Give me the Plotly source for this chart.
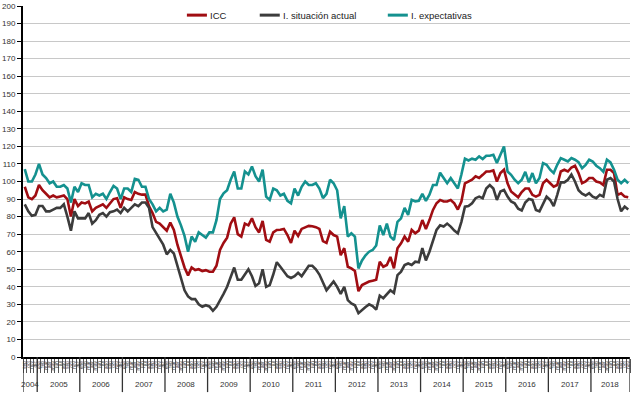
import plotly.graph_objects as go

# ---------------- data ----------------
YEARS = ["2004", "2005", "2006", "2007", "2008", "2009", "2010", "2011",
         "2012", "2013", "2014", "2015", "2016", "2017", "2018"]
MONTHS = ["ene", "feb", "mar", "abr", "may", "jun",
          "jul", "ago", "sep", "oct", "nov", "dic"]
FIRST_MONTH = 8   # series starts in September 2004 (index in MONTHS)
LAST_MONTH = 10   # ends in November 2018

icc = [
    97, 91, 90, 92,
    98, 95, 93, 91, 92, 91, 91.5, 92, 90, 80, 90, 86,
    88, 87.5, 88.5, 83, 85, 86, 87, 85, 87.5, 90, 90.5, 85,
    91, 90, 89.5, 94, 93, 92.5, 92.5, 86, 82, 77, 76, 74,
    72, 76.6, 72.4, 64, 57, 51, 46.5, 51, 49.5, 50, 49, 49.5,
    48.6, 48.6, 52, 61, 65, 68, 76, 79.6, 70, 68.6, 76, 75,
    79, 74, 71, 77.5, 66.7, 65.7, 71, 72.4, 72.5, 73, 69.5, 65,
    72, 69, 73, 74, 74.7, 74.5, 74, 73, 66, 65, 71.4, 69.5,
    68.6, 58, 62, 51.4, 50.5, 49, 37.5, 41, 42, 43, 43.5, 44,
    54.3, 51.4, 52.4, 57, 50.5, 62, 64.8, 68.6, 65.7, 72.4, 70.5, 72,
    78, 73, 78, 83.8, 87.6, 89.5, 88.6, 88.6, 89.5, 87.6, 84, 88.6,
    99, 100, 101, 102.9, 102, 103.8, 105.7, 105.7, 106.3, 100, 104.8, 106.7,
    99, 94.3, 92.4, 91, 94, 96, 96, 92.4, 91.4, 92.4, 99, 101,
    99, 97, 98, 105.7, 106.7, 105.7, 108, 109, 104.8, 99, 100, 102,
    102, 100, 99.5, 98, 106.7, 106.7, 104.8, 92.4, 93.3, 91.4, 91,
]

situacion_actual = [
    87, 83, 80.5, 81,
    86, 86, 83, 83, 84, 85, 85, 87, 80, 72, 83, 79,
    79, 79, 82, 76, 78, 81, 82, 80, 82.5, 83, 84, 82,
    85, 83, 85, 87, 86, 88, 88, 85, 74, 70.5, 67.5, 64,
    58.5, 61, 59, 52, 45, 38, 34.5, 33, 33, 30, 28.6, 29.5,
    28.8, 26.3, 28.6, 32, 36, 40, 46, 51, 44, 44, 47, 50,
    46, 40.5, 42, 50, 40, 41, 47, 54, 51.4, 48.6, 46, 45,
    46, 48, 46, 49, 52, 52, 50, 47, 42, 38, 40.5, 43,
    40, 36, 40, 32.4, 30.5, 29.5, 25, 27, 28.5, 30, 29, 27,
    35, 33.5, 36, 38, 36.5, 46.7, 48.6, 52.4, 53.3, 52.4, 54.3, 54,
    62, 55, 60, 66.7, 72.4, 75, 74.3, 76, 74.3, 72, 70.5, 77,
    85.7, 86, 87.6, 90.5, 91.4, 90.5, 96, 98, 96, 89.5, 94.3, 95.2,
    91.4, 88.6, 87.6, 84.5, 83.5, 88, 90, 89.5, 83.8, 83, 87.6, 91.4,
    89.5, 86, 92.4, 99.5, 99.5, 101, 104, 100, 95, 93, 92, 93.3,
    91.4, 90.5, 92.4, 91.4, 101, 102, 100, 90, 83, 85.7, 84,
]

expectativas = [
    107, 100, 100, 104,
    110, 104, 102, 99, 100, 97, 97, 98, 96, 88, 97, 94,
    99, 98, 98, 91, 93, 92, 93, 90, 94, 97.5, 96, 90,
    96, 96, 94, 101.5, 101, 97, 97, 90, 87, 83, 85, 83,
    84, 93, 88, 80, 75, 69, 60, 68.6, 65.7, 71, 69.5, 68,
    71, 71, 78, 90, 93.3, 95, 101, 105.7, 96, 96, 105.7, 104,
    108.6, 103, 100, 106.7, 91.4, 89.5, 96, 95, 92, 93, 89, 87.6,
    96, 92, 97, 100, 98, 98, 99, 96, 90.5, 93, 101, 99,
    95, 79, 86, 68.6, 70.5, 68.6, 50.5, 55, 58, 60, 61, 63.5,
    75, 69.5, 76, 68.6, 66.7, 77, 79, 85, 81, 89.5, 88.6, 89,
    93, 89, 92.5, 98, 98, 105, 102, 99, 102, 99, 96, 104,
    113, 112, 113, 112.4, 114.3, 112.8, 114.7, 114.7, 115.2, 110.5, 115.2, 120,
    105.7, 103.8, 101, 99, 101, 105.5, 99.5, 104.8, 99, 102, 110.5, 109.5,
    106.7, 104.8, 109.5, 113.3, 112.4, 111.4, 113.3, 112.4, 111, 107.6, 109.5, 112.4,
    111.4, 109, 107.6, 105.5, 112.4, 110.9, 106.7, 101, 99, 101, 99,
]

# ---------------- month / year structure ----------------
month_labels = []
year_of = []
for yi, y in enumerate(YEARS):
    m0 = FIRST_MONTH if yi == 0 else 0
    m1 = LAST_MONTH if yi == len(YEARS) - 1 else 11
    for m in range(m0, m1 + 1):
        month_labels.append(MONTHS[m])
        year_of.append(y)
n = len(month_labels)
xs = list(range(n))

RED = "#A00D12"
DARK = "#3C3C3C"
TEAL = "#14918F"
FONT = "Liberation Sans, Arial, sans-serif"

fig = go.Figure()
for name, vals, col in [("ICC", icc, RED),
                        ("I. situación actual", situacion_actual, DARK),
                        ("I. expectativas", expectativas, TEAL)]:
    fig.add_trace(go.Scatter(x=xs, y=vals, mode="lines", name=name,
                             line=dict(color=col, width=2.6),
                             showlegend=False))

# year separators and year labels
shapes = []
annotations = []
start = 0
for y in YEARS:
    cnt = year_of.count(y)
    shapes.append(dict(type="line", xref="x", yref="paper",
                       x0=start - 0.5, x1=start - 0.5, y0=0, y1=-0.10,
                       line=dict(color="#333", width=1.3)))
    annotations.append(dict(xref="x", yref="paper", x=start + (cnt - 1) / 2,
                            y=-0.077, text=y, showarrow=False,
                            font=dict(size=8, color="#333", family=FONT),
                            xanchor="center", yanchor="middle"))
    start += cnt
shapes.append(dict(type="line", xref="x", yref="paper",
                   x0=n - 0.5, x1=n - 0.5, y0=0, y1=-0.10,
                   line=dict(color="#333", width=1.3)))

# manual legend
leg_y = 0.974
for (x0, x1, tx, text, col) in [(0.270, 0.303, 0.305, "ICC", RED),
                                (0.390, 0.423, 0.425, "I. situación actual", DARK),
                                (0.601, 0.634, 0.636, "I. expectativas", TEAL)]:
    shapes.append(dict(type="line", xref="paper", yref="paper",
                       x0=x0, x1=x1, y0=leg_y, y1=leg_y,
                       line=dict(color=col, width=3)))
    annotations.append(dict(xref="paper", yref="paper", x=tx, y=leg_y,
                            text=text, showarrow=False, xanchor="left",
                            yanchor="middle",
                            font=dict(size=9.5, color="#222", family=FONT)))

fig.update_layout(
    width=643, height=397,
    margin=dict(l=23, r=13, t=6, b=40, autoexpand=False),
    paper_bgcolor="white", plot_bgcolor="white",
    font=dict(family=FONT, color="#333"),
    shapes=shapes, annotations=annotations,
    xaxis=dict(range=[-0.5, n - 0.5], tickmode="array", tickvals=xs,
               ticktext=month_labels, tickangle=-90, automargin=False,
               tickfont=dict(size=5, color="#444", family=FONT),
               ticks="", showgrid=False, zeroline=False,
               showline=True, linecolor="#000", linewidth=2,
               minor=dict(tickmode="linear", tick0=-0.5, dtick=1,
                          ticks="outside", ticklen=14, tickwidth=1,
                          tickcolor="#555", showgrid=False)),
    yaxis=dict(range=[0, 200], dtick=10, tick0=0, showgrid=True,
               automargin=False,
               gridcolor="#c8c8c8", gridwidth=1, zeroline=False,
               showline=True, linecolor="#000", linewidth=2,
               ticks="outside", ticklen=4, tickcolor="#000",
               tickfont=dict(size=8, color="#333", family=FONT)),
)

fig.write_html("out.html",
               config={"displayModeBar": False, "staticPlot": True},
               post_script="document.body.style.margin='0';"
                           "document.body.style.overflow='hidden';")
